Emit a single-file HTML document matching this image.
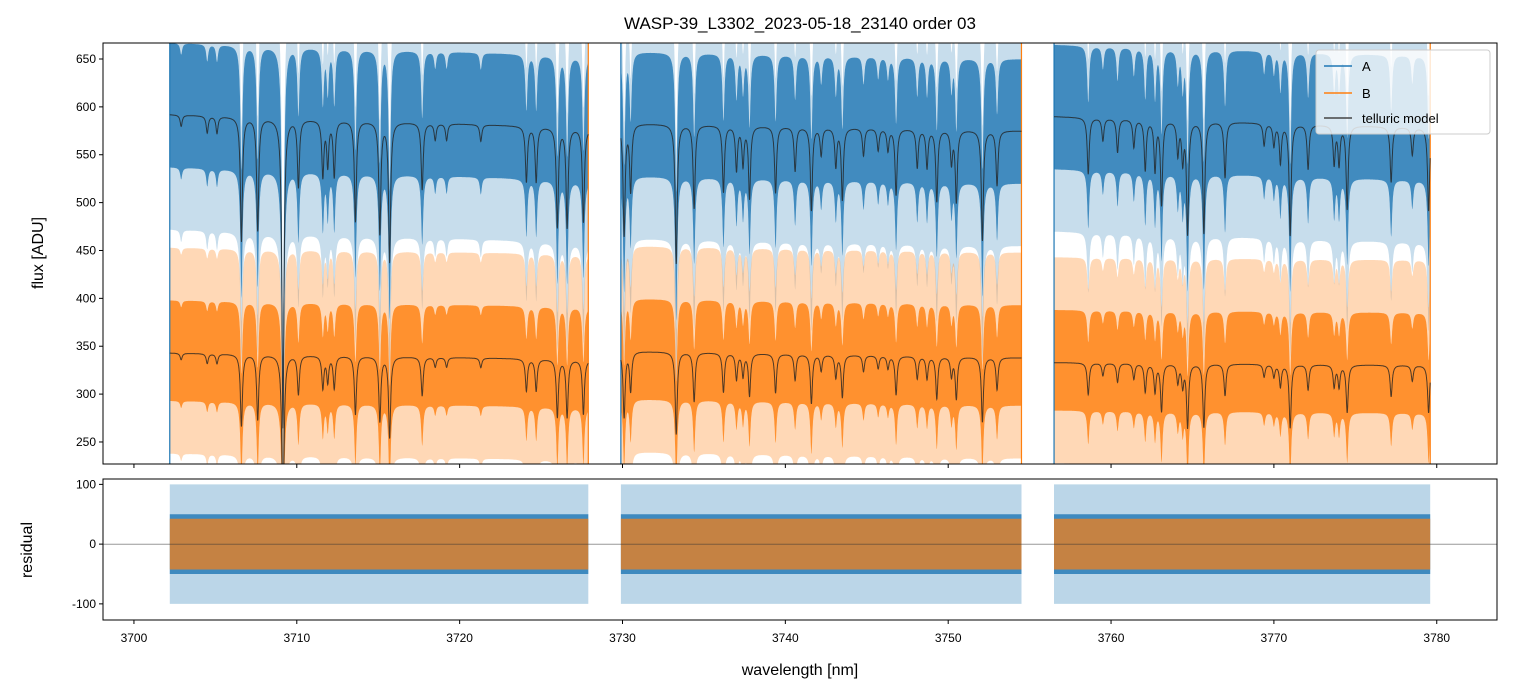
<!DOCTYPE html>
<html><head><meta charset="utf-8"><style>
body{margin:0;background:#fff}
svg{display:block;font-family:"Liberation Sans","DejaVu Sans",sans-serif}
</style></head><body>
<svg id="c" width="1513" height="696" viewBox="0 0 1513 696"></svg>
<script>
// ---- data ----
const segStart=[3702.2,3729.9,3756.5];
const segEnd=[3727.9,3754.5,3779.6];
const contAStart=[592,583,590];
const contAEnd=[578,575,578];
const contBStart=[343,345,333];
const contBEnd=[336,338,330];
const lineWl=[3702.9,3704.5,3705.1,3706.6,3707.6,3709.15,3710.1,3711.6,3711.9,3712.3,3713.6,3715.1,3715.7,3717.7,3718.5,3719.2,3721.3,3724.1,3724.7,3726.0,3726.6,3727.6,
3730.1,3730.5,3733.3,3734.4,3736.2,3737.0,3737.4,3737.8,3739.4,3740.6,3741.6,3742.2,3743.1,3743.5,3744.8,3745.7,3746.3,3746.8,3748.1,3748.7,3749.3,3750.2,3750.5,3752.1,3753.0,
3758.6,3759.5,3760.4,3761.4,3762.1,3762.7,3763.1,3764.1,3764.4,3764.7,3765.7,3767.0,3769.4,3770.0,3770.4,3771.0,3772.1,3773.7,3774.0,3774.5,3777.2,3778.5,3779.5];
const lineDepth=[.02,.03,.03,.22,.2,.55,.12,.1,.08,.1,.18,.2,.25,.12,.03,.03,.03,.1,.1,.18,.18,.17,
.2,.12,.25,.15,.12,.08,.07,.13,.12,.08,.15,.05,.07,.13,.05,.04,.04,.12,.07,.07,.13,.06,.13,.2,.1,
.1,.04,.06,.05,.09,.09,.15,.06,.07,.2,.2,.1,.04,.04,.07,.2,.08,.07,.07,.15,.1,.05,.15];
const xTicks=[3700,3710,3720,3730,3740,3750,3760,3770,3780];
const yTicksTop=[250,300,350,400,450,500,550,600,650];
const yTicksRes=[-100,0,100];
const noiseA=[55,75,120]; // inner-low, inner-high, outer-low spread (ADU)
const noiseB=[50,55,105];
const resInner=50, resOuter=100;

// ---- axes ----
const X0=103,X1=1497,xmin=3698.1,xmax=3783.7;
const T0=43,T1=464,tmin=227,tmax=666.7;
const R0=479,R1=620,rmin=-127,rmax=109;
const sx=v=>X0+(v-xmin)/(xmax-xmin)*(X1-X0);
const sy=v=>T1-(v-tmin)/(tmax-tmin)*(T1-T0);
const ry=v=>R1-(v-rmin)/(rmax-rmin)*(R1-R0);
const NS='http://www.w3.org/2000/svg';
const svg=document.getElementById('c');
function mk(tag,attrs,parent){const e=document.createElementNS(NS,tag);for(const k in attrs)e.setAttribute(k,attrs[k]);(parent||svg).appendChild(e);return e;}
function trans(w){let t=1;const g=0.075;for(let i=0;i<lineWl.length;i++){const d=w-lineWl[i];t*=1-lineDepth[i]*g*g/(d*d+g*g);}return t;}
const defs=mk('defs',{});
const cpT=mk('clipPath',{id:'ct'},defs);mk('rect',{x:X0,y:T0,width:X1-X0,height:T1-T0},cpT);
const cpR=mk('clipPath',{id:'cr'},defs);mk('rect',{x:X0,y:R0,width:X1-X0,height:R1-R0},cpR);
const gT=mk('g',{'clip-path':'url(#ct)'});


const gR=mk('g',{'clip-path':'url(#cr)'});



function seg(i,cs,ce){const pts=[];for(let w=segStart[i];w<=segEnd[i]+1e-9;w+=0.01){const f=(w-segStart[i])/(segEnd[i]-segStart[i]);const c=cs[i]+(ce[i]-cs[i])*f;pts.push([w,c*trans(w)]);}return pts;}
function band(pts,lo,hi,scale,fill,op,parent,name,amp){
 const up=pts.map(p=>sx(p[0]).toFixed(1)+','+scale(p[1]+hi).toFixed(1));
 const dn=pts.slice().reverse().map(p=>sx(p[0]).toFixed(1)+','+scale(p[1]-lo*(1+amp*(1-trans(p[0])))).toFixed(1));
 const e=mk('polygon',{points:up.concat(dn).join(' '),fill:fill,'fill-opacity':op},parent);
 
 
}
const models=[];
for(let i=0;i<3;i++){
 const pa=seg(i,contAStart,contAEnd), pb=seg(i,contBStart,contBEnd);
 models.push([pa,pb]);
 band(pa,noiseA[2],120,sy,'#1f77b4',0.25,gT,'flux-a-outer',0.3);
 band(pa,noiseA[0],noiseA[1],sy,'#1f77b4',0.8,gT,'flux-a',0.3);
 band(pb,noiseB[2],110,sy,'#ff7f0e',0.3,gT,'flux-b-outer',0.3);
 band(pb,noiseB[0],noiseB[1],sy,'#ff7f0e',0.8,gT,'flux-b',0.3);
 // residual bands
 const z=pa.map(p=>[p[0],0]);
 band(z,resOuter,resOuter,ry,'#1f77b4',0.3,gR,'residual-a-outer',0);
 band(z,resInner,resInner,ry,'#1f77b4',0.8,gR,'residual-a',0);
 band(z,resInner*0.85,resInner*0.85,ry,'#ff7f0e',0.7,gR,'residual-b',0);
 // edge spikes
 [[segStart[i],'#1f77b4'],[segEnd[i],'#ff7f0e']].forEach(([w,c])=>{
  const l=mk('line',{x1:sx(w),x2:sx(w),y1:T0,y2:T1,stroke:c,'stroke-width':1.2},gT);
  
  
 });
}
models.forEach(m=>m.forEach(p=>{
 const l=mk('polyline',{points:p.map(q=>sx(q[0]).toFixed(1)+','+sy(q[1]).toFixed(1)).join(' '),fill:'none',stroke:'#222','stroke-opacity':0.8,'stroke-width':1},gT);
 
 
}));
const zl=mk('line',{x1:X0,x2:X1,y1:ry(0),y2:ry(0),stroke:'#333','stroke-width':0.6},gR);



// frames
[[T0,T1,'flux-axes-frame'],[R0,R1,'residual-axes-frame']].forEach(([a,b,n])=>{
 const r=mk('rect',{x:X0,y:a,width:X1-X0,height:b-a,fill:'none',stroke:'#000','stroke-width':1});
 
});
// ticks
xTicks.forEach(v=>{const x=sx(v);
 mk('line',{x1:x,x2:x,y1:T1,y2:T1+4,stroke:'#000'});
 mk('line',{x1:x,x2:x,y1:R1,y2:R1+4,stroke:'#000'});
 const t=mk('text',{x:x,y:R1+22,'text-anchor':'middle','font-size':12});t.textContent=v;
 
});
yTicksTop.forEach(v=>{const y=sy(v);
 mk('line',{x1:X0-4,x2:X0,y1:y,y2:y,stroke:'#000'});
 const t=mk('text',{x:X0-7,y:y+4,'text-anchor':'end','font-size':12});t.textContent=v;
 
});
yTicksRes.forEach(v=>{const y=ry(v);
 mk('line',{x1:X0-4,x2:X0,y1:y,y2:y,stroke:'#000'});
 const t=mk('text',{x:X0-7,y:y+4,'text-anchor':'end','font-size':12});t.textContent=v;
 
});
</script>
<svg width="1513" height="696" style="position:absolute;left:0;top:0;pointer-events:none">
<text x="800" y="29" text-anchor="middle" font-size="17">WASP-39_L3302_2023-05-18_23140  order 03</text>
<text x="800" y="675" text-anchor="middle" font-size="16">wavelength [nm]</text>
<text transform="translate(43,253) rotate(-90)" text-anchor="middle" font-size="16">flux [ADU]</text>
<text transform="translate(32,550) rotate(-90)" text-anchor="middle" font-size="16">residual</text>
<g>
<rect x="1316" y="50" width="174" height="84" rx="3" fill="#fff" fill-opacity="0.8" stroke="#ccc"/>
<line x1="1324" x2="1352" y1="66" y2="66" stroke="#1f77b4" stroke-width="1.5"/>
<text x="1362" y="71" font-size="13">A</text>
<line x1="1324" x2="1352" y1="93" y2="93" stroke="#ff7f0e" stroke-width="1.5"/>
<text x="1362" y="98" font-size="13">B</text>
<line x1="1324" x2="1352" y1="118" y2="118" stroke="#444" stroke-width="1.5"/>
<text x="1362" y="123" font-size="13">telluric model</text>
</g>
</svg>
</body></html>
